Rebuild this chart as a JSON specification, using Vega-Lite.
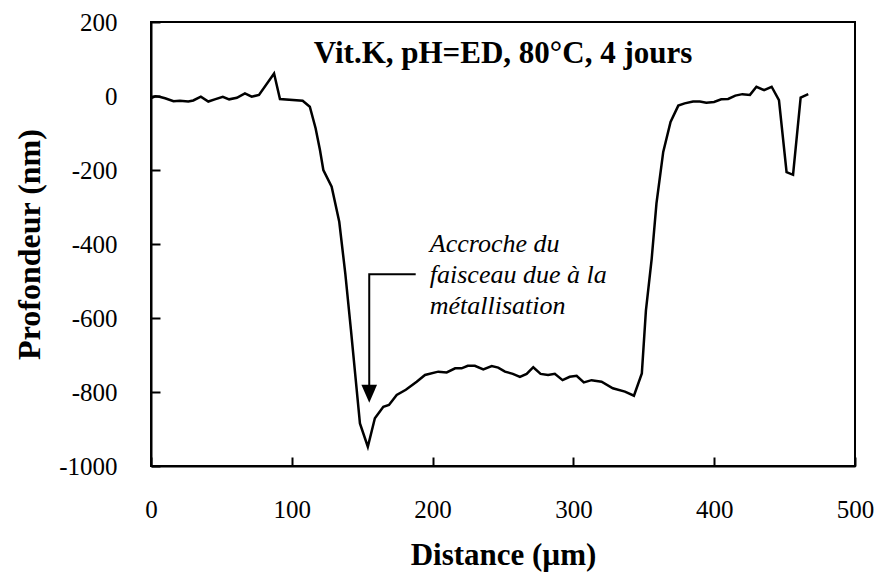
{
  "$schema": "https://vega.github.io/schema/vega-lite/v6.json",
  "width": 704,
  "height": 444,
  "autosize": {"type": "none"},
  "padding": {"left": 151, "top": 22, "right": 23, "bottom": 115},
  "background": "white",
  "config": {
    "view": {"stroke": "black", "strokeWidth": 2},
    "axis": {
      "grid": false,
      "domainColor": "black",
      "domainWidth": 2,
      "tickColor": "black",
      "tickWidth": 2,
      "tickSize": -9,
      "labelFlush": false,
      "labelFont": "Liberation Serif",
      "labelFontSize": 25,
      "labelColor": "black",
      "titleFont": "Liberation Serif",
      "titleFontSize": 31,
      "titleFontWeight": "bold",
      "titleColor": "black"
    }
  },
  "datasets": {
    "profile": [
      {"d": 0, "v": -6}, {"d": 3, "v": -1}, {"d": 6, "v": -2}, {"d": 10, "v": -6},
      {"d": 16, "v": -14}, {"d": 20.5, "v": -13}, {"d": 26.5, "v": -15}, {"d": 30, "v": -12},
      {"d": 35.4, "v": -2}, {"d": 40.7, "v": -15}, {"d": 45.3, "v": -9}, {"d": 51, "v": -2},
      {"d": 55.5, "v": -9}, {"d": 61, "v": -5}, {"d": 66.7, "v": 7}, {"d": 71.5, "v": -2},
      {"d": 76.7, "v": 3}, {"d": 87.4, "v": 61}, {"d": 91.6, "v": -8}, {"d": 107.7, "v": -13},
      {"d": 112.8, "v": -29}, {"d": 116.9, "v": -87}, {"d": 120, "v": -146}, {"d": 122.4, "v": -200},
      {"d": 128.3, "v": -245}, {"d": 133.7, "v": -340}, {"d": 138, "v": -480}, {"d": 142, "v": -632},
      {"d": 148.4, "v": -885}, {"d": 154, "v": -948}, {"d": 159, "v": -871}, {"d": 165, "v": -840},
      {"d": 169, "v": -835}, {"d": 174.5, "v": -808}, {"d": 181, "v": -794}, {"d": 188.7, "v": -772},
      {"d": 194.6, "v": -754}, {"d": 204, "v": -745}, {"d": 210, "v": -747}, {"d": 216, "v": -736},
      {"d": 220.6, "v": -736}, {"d": 225, "v": -729}, {"d": 230, "v": -729}, {"d": 236, "v": -739},
      {"d": 242, "v": -730}, {"d": 246.6, "v": -734}, {"d": 251.4, "v": -745}, {"d": 257, "v": -751},
      {"d": 262, "v": -759}, {"d": 266.8, "v": -751}, {"d": 271.5, "v": -733}, {"d": 276.7, "v": -751},
      {"d": 282, "v": -754}, {"d": 286.8, "v": -751}, {"d": 292.3, "v": -768}, {"d": 297.4, "v": -759},
      {"d": 302.3, "v": -756}, {"d": 307.4, "v": -774}, {"d": 312.9, "v": -768}, {"d": 320, "v": -772},
      {"d": 328, "v": -790}, {"d": 336.6, "v": -799}, {"d": 343, "v": -810}, {"d": 348.6, "v": -750},
      {"d": 351.5, "v": -580}, {"d": 355.6, "v": -440}, {"d": 359, "v": -290}, {"d": 363.8, "v": -151},
      {"d": 369, "v": -70}, {"d": 374.5, "v": -26}, {"d": 379, "v": -20}, {"d": 385, "v": -15},
      {"d": 389.8, "v": -15}, {"d": 394.4, "v": -18}, {"d": 399.9, "v": -16}, {"d": 405, "v": -9},
      {"d": 409.9, "v": -8}, {"d": 415, "v": 1}, {"d": 420, "v": 5}, {"d": 425.4, "v": 3},
      {"d": 430, "v": 25}, {"d": 435.4, "v": 16}, {"d": 440.8, "v": 25}, {"d": 446, "v": -11},
      {"d": 451.4, "v": -206}, {"d": 456, "v": -213}, {"d": 461.4, "v": -4}, {"d": 466.8, "v": 5}
    ],
    "arrow": [
      {"o": 1, "d": 188, "v": -482},
      {"o": 2, "d": 155, "v": -482},
      {"o": 3, "d": 155, "v": -790}
    ],
    "head": [
      {"d": 155, "v": -805}
    ],
    "note": [
      {"d": 198, "v": -421, "t": "Accroche du"},
      {"d": 198, "v": -505, "t": "faisceau due à la"},
      {"d": 198, "v": -589, "t": "métallisation"}
    ],
    "heading": [
      {"d": 250, "v": 89, "t": "Vit.K, pH=ED, 80°C, 4 jours"}
    ]
  },
  "layer": [
    {
      "data": {"name": "profile"},
      "mark": {"type": "line", "color": "black", "strokeWidth": 2.5, "clip": true},
      "encoding": {
        "x": {
          "field": "d", "type": "quantitative",
          "scale": {"domain": [0, 500], "nice": false},
          "axis": {"values": [0, 100, 200, 300, 400, 500], "title": "Distance (µm)", "labelExpr": "'' + datum.value", "labelFont": "Liberation Serif", "labelFlush": false, "labelPadding": 40, "titlePadding": 18}
        },
        "y": {
          "field": "v", "type": "quantitative",
          "scale": {"domain": [-1000, 200], "nice": false},
          "axis": {"values": [-1000, -800, -600, -400, -200, 0, 200], "title": "Profondeur (nm)", "labelExpr": "'' + datum.value", "labelFont": "Liberation Serif", "labelFlush": false, "labelPadding": 43, "titlePadding": 12, "titleFontSize": 32}
        }
      }
    },
    {
      "data": {"name": "arrow"},
      "mark": {"type": "line", "color": "black", "strokeWidth": 2},
      "encoding": {
        "x": {"field": "d", "type": "quantitative"},
        "y": {"field": "v", "type": "quantitative"},
        "order": {"field": "o"}
      }
    },
    {
      "data": {"name": "head"},
      "mark": {"type": "point", "shape": "M-0.87,-1L0.87,-1L0,1Z", "filled": true, "color": "black", "opacity": 1, "size": 324},
      "encoding": {
        "x": {"field": "d", "type": "quantitative"},
        "y": {"field": "v", "type": "quantitative"}
      }
    },
    {
      "data": {"name": "note"},
      "mark": {"type": "text", "align": "left", "baseline": "alphabetic", "font": "Liberation Serif", "fontStyle": "italic", "fontSize": 26, "color": "black"},
      "encoding": {
        "x": {"field": "d", "type": "quantitative"},
        "y": {"field": "v", "type": "quantitative"},
        "text": {"field": "t"}
      }
    },
    {
      "data": {"name": "heading"},
      "mark": {"type": "text", "align": "center", "baseline": "alphabetic", "font": "Liberation Serif", "fontWeight": "bold", "fontSize": 31, "color": "black"},
      "encoding": {
        "x": {"field": "d", "type": "quantitative"},
        "y": {"field": "v", "type": "quantitative"},
        "text": {"field": "t"}
      }
    }
  ]
}
